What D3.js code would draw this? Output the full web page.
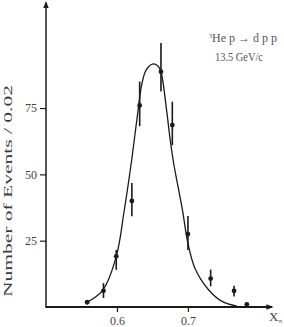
<!DOCTYPE html>
<html>
<head>
<meta charset="utf-8">
<script src="https://cdn.jsdelivr.net/npm/d3@7"></script>
<style>
  body { margin: 0; background: #fff; }
  svg { display: block; font-family: "Liberation Serif", "DejaVu Serif", serif; }
</style>
</head>
<body>
<svg id="chart" width="284" height="327"></svg>
<script>
// Measured points (x = Xπ, y = events / 0.02)
const pointX = [0.558, 0.581, 0.599, 0.621, 0.632, 0.662, 0.678, 0.700, 0.732, 0.765, 0.783];
const pointY = [1.8, 6.1, 19.1, 40.0, 76.0, 88.7, 68.6, 27.5, 10.7, 6.1, 1.0];
const errLow = [1.0, 3.4, 14.0, 34.2, 68.2, 81.2, 61.0, 21.5, 7.8, 4.0, 1.0];
const errHigh = [2.6, 9.0, 21.5, 46.7, 85.0, 99.5, 77.4, 34.3, 14.1, 8.0, 1.0];

// Fitted curve
const curveX = [0.558, 0.580, 0.599, 0.610, 0.620, 0.628, 0.635, 0.641, 0.650, 0.658, 0.662, 0.670, 0.675, 0.680, 0.692, 0.700, 0.710, 0.729, 0.748, 0.769];
const curveY = [1.8, 6.4, 19.0, 36.0, 54.0, 70.5, 84.0, 89.3, 91.6, 90.8, 88.7, 74.0, 63.0, 54.0, 37.0, 24.0, 14.5, 6.5, 2.1, 0.3];

const xTicks = [0.6, 0.7];
const yTicks = [25, 50, 75];

const svg = d3.select('#chart');
const x = d3.scaleLinear().domain([0.5, 0.81]).range([46, 266]);
const y = d3.scaleLinear().domain([0, 114]).range([307, 4.6]);
const ink = '#1a1a1a';
const serif = '"Liberation Serif", "DejaVu Serif", serif';

// arrow heads
svg.append('defs').append('marker')
    .attr('id', 'arrow')
    .attr('viewBox', '0 0 10 10')
    .attr('refX', 8).attr('refY', 5)
    .attr('markerWidth', 7).attr('markerHeight', 7)
    .attr('markerUnits', 'userSpaceOnUse')
    .attr('orient', 'auto')
    .append('path')
    .attr('d', 'M0,1 L10,5 L0,9 Z')
    .attr('fill', ink);

// axes lines
svg.append('line')
    .attr('x1', x(0.5)).attr('y1', y(0))
    .attr('x2', x(0.81) + 6).attr('y2', y(0))
    .attr('stroke', ink).attr('stroke-width', 2)
    .attr('marker-end', 'url(#arrow)');
svg.append('line')
    .attr('x1', x(0.5)).attr('y1', y(0) + 1)
    .attr('x2', x(0.5)).attr('y2', y(114) - 2)
    .attr('stroke', ink).attr('stroke-width', 1.5)
    .attr('marker-end', 'url(#arrow)');

// x ticks
const xAxis = svg.append('g')
    .attr('transform', `translate(0,${y(0)})`)
    .call(d3.axisBottom(x).tickValues(xTicks).tickSize(5).tickPadding(4).tickFormat(d3.format('.1f')));
xAxis.select('.domain').remove();
xAxis.selectAll('line').attr('stroke', ink).attr('stroke-width', 1.2);
xAxis.selectAll('text').attr('font-family', serif).attr('font-size', 12).attr('fill', '#444');

// y ticks
const yAxis = svg.append('g')
    .attr('transform', `translate(${x(0.5)},0)`)
    .call(d3.axisLeft(y).tickValues(yTicks).tickSize(6).tickPadding(3));
yAxis.select('.domain').remove();
yAxis.selectAll('line').attr('stroke', ink).attr('stroke-width', 1.2);
yAxis.selectAll('text').attr('font-family', serif).attr('font-size', 12).attr('fill', '#444');

// axis titles
svg.append('text')
    .attr('transform', 'translate(12,191) rotate(-90)')
    .attr('text-anchor', 'middle')
    .attr('font-size', 12.5)
    .attr('fill', '#3a3a3a')
    .attr('textLength', 212)
    .attr('lengthAdjust', 'spacingAndGlyphs')
    .text('Number of Events / 0.02');

const xt = svg.append('text')
    .attr('x', 269).attr('y', 321)
    .attr('font-size', 13)
    .attr('fill', '#444');
xt.append('tspan').text('X');
xt.append('tspan').attr('font-size', 7).attr('dy', 2).text('π');

// annotation
const ann = svg.append('text')
    .attr('x', 209).attr('y', 42)
    .attr('font-size', 12)
    .attr('fill', '#555');
ann.append('tspan').attr('font-size', 6).attr('dy', -4).text('3');
ann.append('tspan').attr('dy', 4).text('He p ');
ann.append('tspan').attr('font-weight', 'bold').text('\u2192');
ann.append('tspan').text(' d p p');
svg.append('text')
    .attr('x', 215).attr('y', 61)
    .attr('font-size', 12)
    .attr('fill', '#555')
    .attr('textLength', 48)
    .attr('lengthAdjust', 'spacingAndGlyphs')
    .text('13.5 GeV/c');

// fitted curve
const curveData = curveX.map((d, i) => [d, curveY[i]]);
svg.append('path')
    .datum(curveData)
    .attr('fill', 'none')
    .attr('stroke', ink)
    .attr('stroke-width', 1.3)
    .attr('d', d3.line().x(d => x(d[0])).y(d => y(d[1])).curve(d3.curveCatmullRom.alpha(0.5)));

// error bars and points
const pts = pointX.map((d, i) => ({ x: d, y: pointY[i], lo: errLow[i], hi: errHigh[i] }));
svg.append('g').selectAll('line')
    .data(pts)
    .join('line')
    .attr('x1', d => x(d.x)).attr('x2', d => x(d.x))
    .attr('y1', d => y(d.lo)).attr('y2', d => y(d.hi))
    .attr('stroke', ink)
    .attr('stroke-width', 1.6);
svg.append('g').selectAll('circle')
    .data(pts)
    .join('circle')
    .attr('cx', d => x(d.x)).attr('cy', d => y(d.y))
    .attr('r', 2.4)
    .attr('fill', ink);
</script>
</body>
</html>
